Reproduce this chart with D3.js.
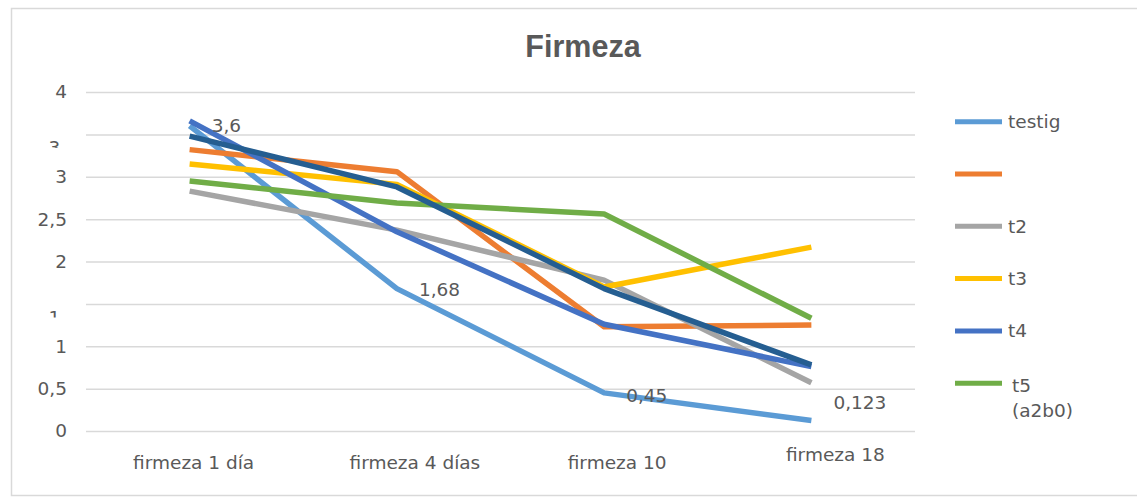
<!DOCTYPE html>
<html>
<head>
<meta charset="utf-8">
<script src="https://cdn.jsdelivr.net/npm/d3@7"></script>
<style>
  body { margin: 0; background: #fff; }
  svg { display: block; font-family: "DejaVu Sans", sans-serif; }
</style>
</head>
<body>
<svg id="chart" width="1137" height="497"></svg>
<script>
// categories along x
const categories = ['firmeza 1 día', 'firmeza 4 días', 'firmeza 10', 'firmeza 18'];

// series values
const testig = [3.6, 1.68, 0.45, 0.123];
const t1 = [3.32, 3.06, 1.23, 1.25];
const t2 = [2.83, 2.37, 1.78, 0.57];
const t3 = [3.15, 2.91, 1.70, 2.17];
const t4 = [3.66, 2.35, 1.26, 0.76];
const t5 = [2.95, 2.69, 2.56, 1.33];
const t6 = [3.48, 2.88, 1.68, 0.78];

const seriesNames = ['testig', '', 't2', 't3', 't4', 't5 (a2b0)', 't6'];
const seriesValues = [testig, t1, t2, t3, t4, t5, t6];
const seriesColors = ['#5B9BD5', '#ED7D31', '#A5A5A5', '#FFC000', '#4472C4', '#70AD47', '#255E91'];

// only testig carries value labels
const labelValues = ['3,6', '1,68', '0,45', '0,123'];
const labelDy = [0, 1, 3, -18];

const yTicks = [0, 0.5, 1, 1.5, 2, 2.5, 3, 3.5, 4];
// these two tick labels are cut off in the original
const cutTicks = [3.5, 1.5];

const TEXT = '#595959';
const GRID = '#d9d9d9';

const svg = d3.select('#chart');

// outer chart frame (no right edge in the screenshot)
svg.append('path')
    .attr('d', 'M1137,8.5 H11.5 V495.5 H1137')
    .attr('fill', 'none')
    .attr('stroke', GRID)
    .attr('stroke-width', 1.5);

const x = d3.scaleBand()
    .domain(categories)
    .range([86, 915]);

const y = d3.scaleLinear()
    .domain([0, 4])
    .range([431, 92]);

const locale = d3.formatLocale({decimal: ',', thousands: '.', grouping: [3], currency: ['', '€']});
const fmt = locale.format('~g');

// y axis with gridlines
const yAxis = svg.append('g')
    .attr('transform', 'translate(86,0)')
    .call(d3.axisLeft(y)
        .tickValues(yTicks)
        .tickSize(-(915 - 86))
        .tickPadding(19)
        .tickFormat(fmt));
yAxis.select('.domain').remove();
yAxis.selectAll('.tick line')
    .attr('stroke', GRID)
    .attr('stroke-width', 1.5);
yAxis.selectAll('.tick text')
    .attr('fill', TEXT)
    .attr('font-size', 18.5)
    .attr('font-family', '"DejaVu Sans", sans-serif');

// only the top of the first glyph shows for the cut labels
const defs = svg.append('defs');
defs.append('clipPath')
    .attr('id', 'cut')
    .attr('clipPathUnits', 'userSpaceOnUse')
    .append('rect')
        .attr('x', -40)
        .attr('y', 6)
        .attr('width', 16)
        .attr('height', 7);

yAxis.selectAll('.tick')
    .filter(d => cutTicks.includes(d))
    .select('text')
        .attr('x', -8)
        .attr('dy', '1.05em')
        .attr('clip-path', 'url(#cut)');

// x axis labels
const xLabelDx = [4, 18, 13, 24];
const xLabelY = [469, 469, 469, 461];
svg.append('g')
    .selectAll('text')
    .data(categories)
    .join('text')
        .attr('x', (d, i) => x(d) + x.bandwidth() / 2 + xLabelDx[i])
        .attr('y', (d, i) => xLabelY[i])
        .attr('text-anchor', 'middle')
        .attr('fill', TEXT)
        .attr('font-size', 18.5)
        .text(d => d);

// title
svg.append('text')
    .attr('x', 583)
    .attr('y', 57)
    .attr('text-anchor', 'middle')
    .attr('fill', TEXT)
    .attr('font-size', 30.5)
    .attr('font-weight', 'bold')
    .attr('font-family', '"Liberation Sans", sans-serif')
    .text('Firmeza');

// lines
const line = d3.line()
    .x((d, i) => x(categories[i]) + x.bandwidth() / 2)
    .y(d => y(d));

svg.append('g')
    .selectAll('path')
    .data(seriesValues)
    .join('path')
        .attr('d', d => line(d))
        .attr('fill', 'none')
        .attr('stroke', (d, i) => seriesColors[i])
        .attr('stroke-width', 5.5)
        .attr('stroke-linejoin', 'round');

// value labels on testig
svg.append('g')
    .selectAll('text')
    .data(testig)
    .join('text')
        .attr('x', (d, i) => x(categories[i]) + x.bandwidth() / 2 + 22)
        .attr('y', (d, i) => y(d) + labelDy[i])
        .attr('dy', '0.35em')
        .attr('fill', TEXT)
        .attr('font-size', 18.5)
        .text((d, i) => labelValues[i]);

// legend, the last (dark) series has no entry
const legend = svg.append('g')
    .selectAll('g')
    .data(seriesNames.slice(0, 6))
    .join('g')
        .attr('transform', (d, i) => 'translate(955,' + (121.7 + i * 52.3) + ')');

legend.append('line')
    .attr('x1', 0)
    .attr('x2', 47)
    .attr('stroke', (d, i) => seriesColors[i])
    .attr('stroke-width', 5);

legend.append('text')
    .attr('fill', TEXT)
    .attr('font-size', 18.5)
    .each(function(d) {
        const parts = d.split(' ');
        const t = d3.select(this);
        parts.forEach((p, k) => {
            t.append('tspan')
                .attr('x', parts.length > 1 ? 57 : 53)
                .attr('y', k === 0 ? (parts.length > 1 ? 2 : 0) : 27)
                .attr('dy', '0.35em')
                .text(p);
        });
    });
</script>
</body>
</html>
